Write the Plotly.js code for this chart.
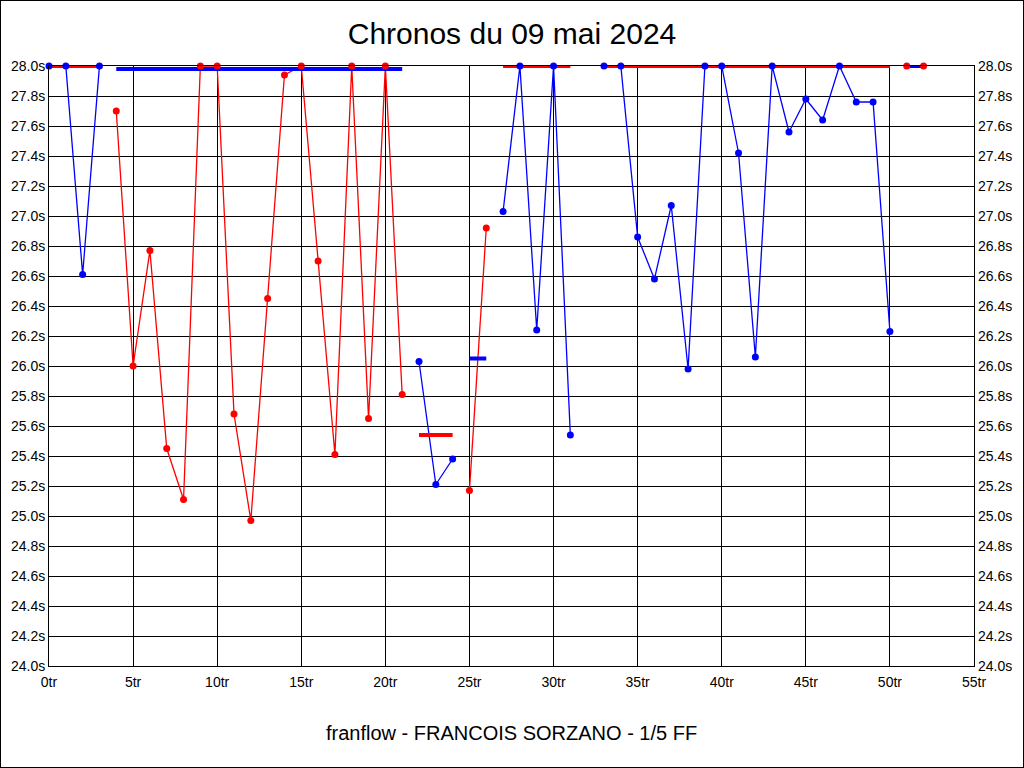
<!DOCTYPE html>
<html>
<head>
<meta charset="utf-8">
<script src="https://cdn.plot.ly/plotly-3.0.1.min.js"></script>
<style>
  html, body { margin: 0; padding: 0; background: #fff; }
  #wrap { position: relative; width: 1024px; height: 768px; }
  #chart { width: 1024px; height: 768px; }
  #frame { position: absolute; left: 0; top: 0; width: 1024px; height: 768px; box-sizing: border-box; border: 1px solid #000; pointer-events: none; }
</style>
</head>
<body>
<div id="wrap"><div id="chart"></div><div id="frame"></div></div>
<script>
// ---- Data ----
const titleText = "Chronos du 09 mai 2024";
const footerText = "franflow - FRANCOIS SORZANO - 1/5 FF";

// Segments of laps (x = lap number "tr", y = lap time in seconds, clamped at 28.0)
const seg1Laps = [0, 1, 2, 3];
const seg1Times = [28.0, 28.0, 26.61, 28.0];
const seg1Avg = 28.0;

const seg2Laps = [4, 5, 6, 7, 8, 9, 10, 11, 12, 13, 14, 15, 16, 17, 18, 19, 20, 21];
const seg2Times = [27.70, 26.00, 26.77, 25.45, 25.11, 28.0, 28.0, 25.68, 24.97, 26.45, 27.94, 28.0, 26.70, 25.41, 28.0, 25.65, 28.0, 25.81];
const seg2Avg = 27.98;

const seg3Laps = [22, 23, 24];
const seg3Times = [26.03, 25.21, 25.38];
const seg3Avg = 25.54;

const seg4Laps = [25, 26];
const seg4Times = [25.17, 26.92];
const seg4Avg = 26.05;

const seg5Laps = [27, 28, 29, 30, 31];
const seg5Times = [27.03, 28.0, 26.24, 28.0, 25.54];
const seg5Avg = 28.0;

const seg6Laps = [33, 34, 35, 36, 37, 38, 39, 40, 41, 42, 43, 44, 45, 46, 47, 48, 49, 50];
const seg6Times = [28.0, 28.0, 26.86, 26.58, 27.07, 25.98, 28.0, 28.0, 27.42, 26.06, 28.0, 27.56, 27.78, 27.64, 28.0, 27.76, 27.76, 26.23];
const seg6Avg = 28.0;

const seg7Laps = [51, 52];
const seg7Times = [28.0, 28.0];
const seg7Avg = 28.0;

const BLUE = "#0000FF";
const RED = "#FF0000";

// segment list: laps, times, average, data colour (average line uses the other colour)
const segments = [
  [seg1Laps, seg1Times, seg1Avg, BLUE],
  [seg2Laps, seg2Times, seg2Avg, RED],
  [seg3Laps, seg3Times, seg3Avg, BLUE],
  [seg4Laps, seg4Times, seg4Avg, RED],
  [seg5Laps, seg5Times, seg5Avg, BLUE],
  [seg6Laps, seg6Times, seg6Avg, BLUE],
  [seg7Laps, seg7Times, seg7Avg, RED]
];

const yTickVals = [];
const yTickText = [];
for (let i = 0; i <= 20; i++) {
  const v = 24 + i * 0.2;
  yTickVals.push(v);
  yTickText.push(v.toFixed(1) + "s");
}
const xTickVals = [0, 5, 10, 15, 20, 25, 30, 35, 40, 45, 50, 55];
const xTickText = xTickVals.map(v => v + "tr");

// ---- Traces ----
const traces = [];
// data lines
segments.forEach(([lx, ty, avg, col]) => {
  traces.push({ x: lx, y: ty, type: "scatter", mode: "lines", line: { color: col, width: 1.3 }, cliponaxis: false, hoverinfo: "skip", showlegend: false });
});
// average lines (other colour)
segments.forEach(([lx, ty, avg, col]) => {
  const other = col === BLUE ? RED : BLUE;
  traces.push({ x: [lx[0], lx[lx.length - 1]], y: [avg, avg], type: "scatter", mode: "lines", line: { color: other, width: 4 }, cliponaxis: false, hoverinfo: "skip", showlegend: false });
});
// markers
segments.forEach(([lx, ty, avg, col]) => {
  traces.push({ x: lx, y: ty, type: "scatter", mode: "markers", marker: { color: col, size: 7 }, cliponaxis: false, showlegend: false });
});
// invisible trace for right axis
traces.push({ x: [0], y: [24], yaxis: "y2", type: "scatter", mode: "markers", marker: { opacity: 0 }, hoverinfo: "skip", showlegend: false });

const tickFont = { family: "Liberation Sans, Arial, sans-serif", size: 14, color: "#000" };

const layout = {
  width: 1024, height: 768,
  margin: { l: 49, r: 50, t: 66, b: 102 },
  paper_bgcolor: "#fff", plot_bgcolor: "#fff",
  title: { text: titleText, font: { family: "Liberation Sans, Arial, sans-serif", size: 30, color: "#000" }, x: 0.5, xanchor: "center", y: 1 - 33 / 768, yanchor: "middle" },
  xaxis: {
    range: [0, 55], tickvals: xTickVals, ticktext: xTickText,
    showgrid: true, gridcolor: "#000", gridwidth: 1, zeroline: false,
    showline: true, linecolor: "#000", linewidth: 1, mirror: true,
    ticks: "", tickfont: tickFont, ticklabelstandoff: 3, fixedrange: true
  },
  yaxis: {
    range: [24, 28], tickvals: yTickVals, ticktext: yTickText,
    showgrid: true, gridcolor: "#000", gridwidth: 1, zeroline: false,
    showline: true, linecolor: "#000", linewidth: 1, mirror: true,
    ticks: "", tickfont: tickFont, fixedrange: true
  },
  yaxis2: {
    range: [24, 28], tickvals: yTickVals, ticktext: yTickText,
    overlaying: "y", side: "right", showgrid: false, zeroline: false,
    showline: false, ticks: "", tickfont: tickFont, ticklabelstandoff: 3, fixedrange: true
  },
  annotations: [{
    text: footerText, xref: "paper", yref: "paper", x: 0.5, y: (666 - 733) / 600,
    xanchor: "center", yanchor: "middle", showarrow: false,
    font: { family: "Liberation Sans, Arial, sans-serif", size: 20, color: "#000" }
  }]
};

Plotly.newPlot("chart", traces, layout, { displayModeBar: false, staticPlot: true });
</script>
</body>
</html>
